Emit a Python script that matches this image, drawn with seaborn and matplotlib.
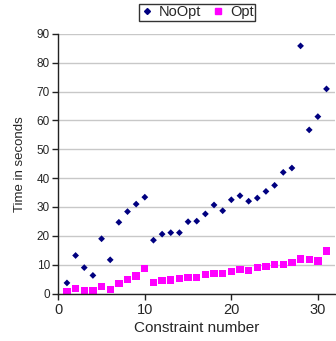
import matplotlib
matplotlib.use("Agg")
import matplotlib.pyplot as plt
import seaborn as sns
import pandas as pd
import numpy as np
from matplotlib.lines import Line2D

constraints = list(range(1, 32))
noopt = [3.7, 13.2, 9.0, 6.3, 19.0, 11.7, 24.7, 28.4, 31.0, 33.4,
         18.5, 20.6, 21.1, 21.1, 24.9, 25.1, 27.6, 30.7, 28.7, 32.5,
         33.9, 32.0, 33.1, 35.4, 37.5, 42.0, 43.5, 85.8, 56.7, 61.3, 70.9]
opt = [0.6, 1.8, 1.1, 1.1, 2.5, 1.5, 3.4, 4.8, 6.1, 8.6,
       3.8, 4.6, 4.7, 5.3, 5.6, 5.6, 6.7, 7.0, 7.0, 7.7,
       8.4, 8.0, 9.1, 9.4, 10.1, 10.1, 10.8, 12.0, 11.8, 11.3, 14.8]
series_names = ["NoOpt", "Opt"]
x_ticks = [0, 10, 20, 30]
y_ticks = [0, 10, 20, 30, 40, 50, 60, 70, 80, 90]

df = pd.DataFrame({
    "Constraint number": constraints * 2,
    "Time in seconds": noopt + opt,
    "Series": [series_names[0]] * len(noopt) + [series_names[1]] * len(opt),
})

sns.set_style("white")
plt.rcParams['font.family'] = ['Liberation Sans', 'DejaVu Sans']

fig = plt.figure(figsize=(3.36, 3.41), dpi=100)
ax = fig.add_axes([0.1735, 0.139, 0.824, 0.762])

sns.scatterplot(data=df, x="Constraint number", y="Time in seconds",
                hue="Series", style="Series",
                palette={"NoOpt": "#000080", "Opt": "#FF00FF"},
                markers={"NoOpt": "D", "Opt": "s"},
                size="Series", sizes={"NoOpt": 12, "Opt": 28},
                linewidth=0, ax=ax, legend=False)

ax.set_xlim(0, 32)
ax.set_ylim(0, 90)
ax.set_xticks(x_ticks)
ax.set_yticks(y_ticks)
ax.yaxis.grid(True, color="#c8c8c8", linewidth=1.0)
ax.xaxis.grid(False)
ax.set_axisbelow(True)
for s in ["top", "right"]:
    ax.spines[s].set_visible(False)
for s in ["left", "bottom"]:
    ax.spines[s].set_color("#222222")
    ax.spines[s].set_linewidth(1.0)
ax.tick_params(axis="both", which="major", direction="out", length=4,
               width=1, color="#222222", pad=2, bottom=True, left=True)
ax.tick_params(axis="x", labelsize=10.5, pad=3)
ax.tick_params(axis="y", labelsize=8.5)
ax.set_xlabel("Constraint number", fontsize=11, labelpad=3)
ax.set_ylabel("Time in seconds", fontsize=9.5, labelpad=8)

handles = [Line2D([], [], marker="D", color="#000080", linestyle="", markersize=3),
           Line2D([], [], marker="s", color="#FF00FF", linestyle="", markersize=4.5)]
leg = fig.legend(handles, series_names, loc="center", bbox_to_anchor=(0.587, 0.964),
                 ncol=2, frameon=True, fontsize=10.5, handlelength=0.8, handletextpad=0.4,
                 columnspacing=0.8, borderpad=0.12, fancybox=False, borderaxespad=0)
leg.get_frame().set_edgecolor("black")
leg.get_frame().set_linewidth(1.0)

fig.savefig("out.png", dpi=100)
